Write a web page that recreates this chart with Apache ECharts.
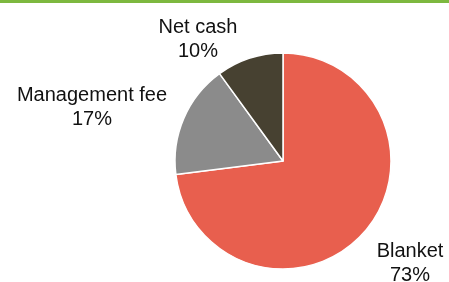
<!DOCTYPE html>
<html>
<head>
<meta charset="utf-8">
<script src="https://cdn.jsdelivr.net/npm/echarts@6/dist/echarts.min.js"></script>
<style>
  html, body { margin: 0; padding: 0; background: #fff; }
  #main { width: 449px; height: 282px; }
</style>
</head>
<body>
<div id="main"></div>
<script>
const categories = ["Blanket", "Management fee", "Net cash"];
const shares = [73, 17, 10];
const colors = ["#E85F4E", "#8B8B8B", "#474131"];

// where each label sits (centre of the text block)
const labelSpots = [[410, 263], [92, 107], [198, 39]];

const chart = echarts.init(document.getElementById("main"));
chart.setOption({
  animation: false,
  graphic: [
    { type: "rect", left: 0, top: 0, shape: { width: 449, height: 3 }, style: { fill: "#7DB83F" } }
  ],
  series: [
    {
      type: "pie",
      center: [283, 161],
      radius: 108,
      startAngle: 90,
      clockwise: true,
      itemStyle: { borderColor: "#fff", borderWidth: 1.5 },
      label: {
        show: true,
        position: "outside",
        formatter: "{b}\n{d}%",
        fontFamily: "Liberation Sans, Arial, sans-serif",
        fontSize: 20,
        lineHeight: 24,
        color: "#111",
        align: "center",
        overflow: "none"
      },
      labelLine: { show: false },
      labelLayout: function (p) {
        const s = labelSpots[p.dataIndex];
        return { x: s[0], y: s[1], align: "center", verticalAlign: "middle" };
      },
      data: categories.map((c, i) => ({ name: c, value: shares[i], itemStyle: { color: colors[i] } }))
    }
  ]
});
</script>
</body>
</html>
